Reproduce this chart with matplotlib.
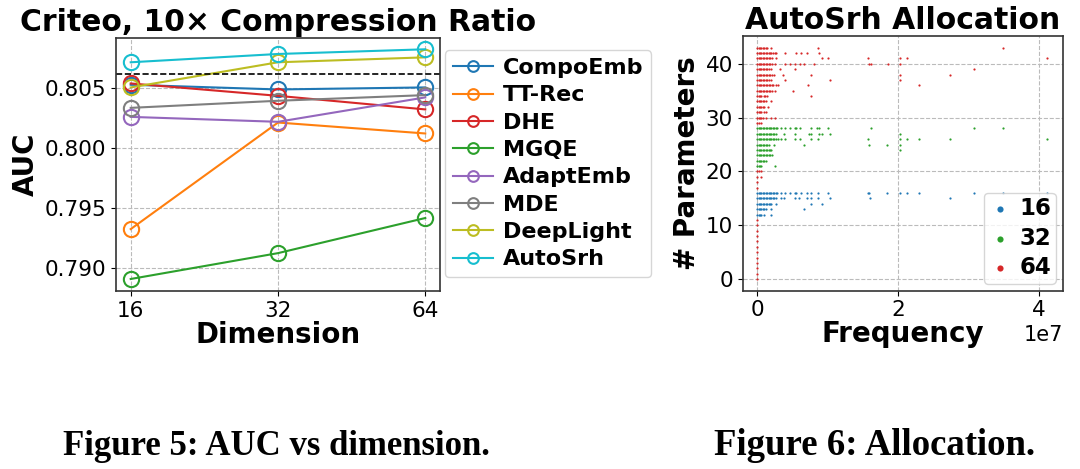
import matplotlib
matplotlib.use("Agg")
import matplotlib.pyplot as plt
import numpy as np

# ---------- Figure 5: AUC vs dimension ----------
dims = ["16", "32", "64"]
methods = ["CompoEmb", "TT-Rec", "DHE", "MGQE", "AdaptEmb", "MDE",
           "DeepLight", "AutoSrh"]
auc_compoemb = [0.80525, 0.80486, 0.80503]
auc_ttrec = [0.79325, 0.80211, 0.80120]
auc_dhe = [0.80536, 0.80433, 0.80320]
auc_mgqe = [0.78910, 0.79125, 0.79417]
auc_adaptemb = [0.80258, 0.80217, 0.80420]
auc_mde = [0.80333, 0.80392, 0.80439]
auc_deeplight = [0.80503, 0.80712, 0.80753]
auc_autosrh = [0.80712, 0.80781, 0.80820]
auc_baseline = 0.80614

colors = ["tab:blue", "tab:orange", "tab:red", "tab:green", "tab:purple",
          "tab:gray", "tab:olive", "tab:cyan"]

# ---------- Figure 6: AutoSrh allocation (freq in 1e7, by #params) ----------
alloc_16 = {
    16: [0, .02, .04, .06, .08, .1, .12, .14, .16, .18, .2, .22, .24, .26,
         .28, .33, .39, .47, .53, .55, .62, .70, .77, .86, 1.0, 1.57, 1.59,
         1.84, 2.02, 2.12, 2.29, 3.08, 3.49, 4.12],
    15: [0, .02, .04, .06, .08, .1, .12, .14, .16, .18, .2, .22, .24, .26,
         .33, .38, .53, .59, .71, .77, .86, 1.03, 1.6, 2.73],
    14: [0, .02, .04, .06, .08, .1, .12, .14, .16, .18, .2, .26, .77, .92],
    13: [0, .02, .04, .06, .08, .1, .13, .2, .66],
    12: [0, .02, .04, .06, .1, .2],
}
alloc_32 = {
    28: [0, .02, .04, .06, .08, .1, .12, .14, .16, .18, .2, .22, .24, .26,
         .28, .33, .39, .46, .53, .55, .61, .77, .85, .88, 1.0, 1.61, 3.08,
         3.49],
    27: [0, .02, .04, .06, .08, .1, .12, .14, .16, .18, .2, .22, .24, .26,
         .38, .53, .73, .77, .87, .92, 1.03, 2.02],
    26: [0, .02, .04, .06, .08, .1, .12, .14, .16, .18, .2, .22, .24, .26,
         .29, .33, .39, .53, .6, .77, .86, 1.57, 2.02, 2.12, 2.29, 2.73,
         4.12],
    25: [0, .02, .04, .06, .08, .1, .12, .14, .17, .24, .66, 1.58, 1.84,
         2.02],
    24: [0, .02, .04, .06, .08, .1, .12, .14, .16, .18, .2, 2.02],
    23: [0, .02, .04, .06, .08, .1, .12, .14, .16, .18, .21],
    22: [0, .02, .04, .06, .08, .1, .13],
    21: [0, .02, .04, .06, .25],
}
alloc_64 = {
    43: [0, .02, .04, .06, .08, .1, .12, .14, .2, .86, 3.49],
    42: [0, .02, .04, .06, .08, .1, .12, .14, .16, .18, .2, .23, .25, .27,
         .39, .55, .62, .70, .88],
    41: [0, .02, .04, .06, .08, .1, .12, .14, .16, .18, .21, .26, .92, 1.0,
         1.57, 2.02, 2.12, 4.12],
    40: [0, .02, .04, .06, .08, .1, .12, .14, .16, .18, .21, .25, .39, .46,
         .53, .6, .66, .81, 1.58, 1.61, 1.85, 2.02],
    39: [0, .02, .04, .06, .08, .1, .12, .14, .17, .19, .32, .53, 3.08],
    38: [0, .02, .04, .06, .08, .1, .12, .14, .16, .18, .21, .24, .37, .77,
         2.02, 2.73],
    37: [0, .02, .04, .06, .08, .1, .12, .14, .16, .19, .39, 1.03, 2.02],
    36: [0, .02, .04, .06, .08, .1, .12, .14, .16, .18, .21, .23, .26, .29,
         .72, 2.29],
    35: [0, .02, .04, .06, .08, .1, .12, .14, .16, .18, .21, .25, .51],
    34: [0, .02, .04, .06, .09, .11, .14, .77],
    33: [0, .02, .04, .06, .08, .1, .12, .19],
    32: [0, .02, .04, .06, .08, .1, .15],
    31: [0, .02, .04, .06, .09, .13],
    30: [0, .02, .04, .06, .08, .12, .2, .25],
    29: [0, .02, .05],
    20: [0, .03, .06],
    19: [0, .05],
    18: [0], 17: [0], 11: [0], 10: [0], 9: [0], 8: [0], 7: [0], 6: [0],
    5: [0], 4: [0], 3: [0], 2: [0], 1: [0], 0: [0],
}


def _flatten(alloc):
    xs, ys = [], []
    for p, freqs in alloc.items():
        xs += [f * 1e7 for f in freqs]
        ys += [p] * len(freqs)
    return np.array(xs), np.array(ys)


fig = plt.figure(figsize=(10.8, 4.69), dpi=100)

# ---- left panel ----
ax = fig.add_axes([0.1074, 0.3795, 0.300, 0.5395])
series = [auc_compoemb, auc_ttrec, auc_dhe, auc_mgqe, auc_adaptemb, auc_mde,
          auc_deeplight, auc_autosrh]
xpos = np.arange(len(dims))
handles = []
for name, vals, c in zip(methods, series, colors):
    h, = ax.plot(xpos, vals, color=c, marker="o", markersize=11,
                 markerfacecolor="none", markeredgewidth=1.5, lw=1.5,
                 label=name)
    handles.append(h)
ax.axhline(auc_baseline, color="black", ls="--", lw=1.2)
ax.set_xlim(-0.1, 2.1)
ax.set_ylim(0.7881, 0.80914)
ax.set_xticks(xpos, dims)
ax.set_yticks([0.790, 0.795, 0.800, 0.805])
ax.tick_params(labelsize=15.5)
ax.grid(True, ls="--", color="#bbbbbb", lw=0.8)
ax.set_axisbelow(True)
ax.set_xlabel("Dimension", fontsize=20, fontweight="bold", labelpad=0)
ax.set_ylabel("AUC", fontsize=20, fontweight="bold", labelpad=3)
ax.set_title("Criteo, 10× Compression Ratio", fontsize=21.5,
             fontweight="bold", pad=5)
fig.legend(handles=handles, loc="upper left", bbox_to_anchor=(0.412, 0.893),
           prop={"size": 16, "weight": "bold"}, labelspacing=0.33,
           handlelength=1.8, handletextpad=0.45, borderpad=0.35,
           borderaxespad=0, markerscale=0.7)

# ---- right panel ----
ax2 = fig.add_axes([0.6877, 0.3802, 0.2963, 0.5430])
for alloc, c, lab in [(alloc_16, "tab:blue", "16"),
                      (alloc_32, "tab:green", "32"),
                      (alloc_64, "tab:red", "64")]:
    xs, ys = _flatten(alloc)
    ax2.scatter(xs, ys, s=2.5, color=c, linewidths=0, label=lab)
ax2.set_xlim(-0.2065e7, 4.337e7)
ax2.set_ylim(-2.15, 45.15)
ax2.set_yticks([0, 10, 20, 30, 40])
ax2.set_xticks([0, 2e7, 4e7])
ax2.tick_params(labelsize=15.5)
ax2.xaxis.get_offset_text().set_fontsize(15)
ax2.grid(True, ls="--", color="#bbbbbb", lw=0.8)
ax2.set_axisbelow(True)
ax2.set_xlabel("Frequency", fontsize=20, fontweight="bold", labelpad=0)
ax2.set_ylabel("# Parameters", fontsize=20, fontweight="bold", labelpad=3)
ax2.set_title("AutoSrh Allocation", fontsize=21.5, fontweight="bold", pad=5)
ax2.legend(loc="lower right", prop={"size": 16.5, "weight": "bold"},
           markerscale=2.8, handlelength=1.0, handletextpad=0.35,
           labelspacing=0.28, borderpad=0.2, borderaxespad=0.3,
           scatterpoints=1)

for a in (ax, ax2):
    for sp in a.spines.values():
        sp.set_color("#333333")
        sp.set_linewidth(1.2)

# ---- captions ----
fig.text(0.2556, 0.030, "Figure 5: AUC vs dimension.", ha="center",
         va="baseline", fontsize=25, family="Liberation Serif",
         fontweight="bold")
fig.text(0.810, 0.030, "Figure 6: Allocation.", ha="center", va="baseline",
         fontsize=26.5, family="Liberation Serif", fontweight="bold")

fig.savefig("out.png", dpi=100)
